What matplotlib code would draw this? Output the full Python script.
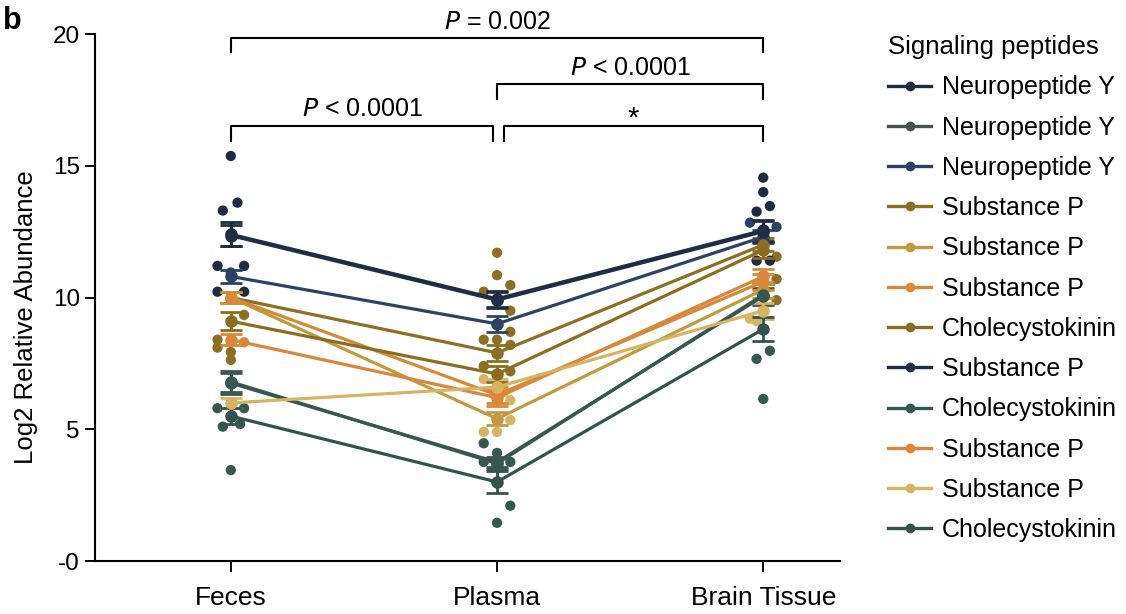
import numpy as np
import matplotlib
matplotlib.use("Agg")
import matplotlib.pyplot as plt
from matplotlib.lines import Line2D

plt.rcParams['font.family'] = ['Liberation Sans', 'DejaVu Sans']

groups = ["Feces", "Plasma", "Brain Tissue"]

names = ["Neuropeptide Y", "Neuropeptide Y", "Neuropeptide Y",
         "Substance P", "Substance P", "Substance P",
         "Cholecystokinin", "Substance P", "Cholecystokinin",
         "Substance P", "Substance P", "Cholecystokinin"]

colors = ["#1d2c40", "#44534d", "#2d4262",
          "#8b6f22", "#c19a3e", "#d68a38",
          "#8a6d1f", "#1f2e45", "#375753",
          "#d9873a", "#d8b462", "#34524d"]

means = [[12.4, 9.95, 12.55],
         [6.75, 3.75, 10.05],
         [10.8, 9.0, 12.3],
         [10.0, 7.9, 12.0],
         [10.0, 5.4, 10.3],
         [10.0, 6.3, 10.6],
         [9.1, 7.1, 11.8],
         [12.35, 9.9, 12.5],
         [6.8, 3.7, 10.1],
         [8.4, 6.2, 10.8],
         [6.0, 6.6, 9.5],
         [5.5, 3.0, 8.8]]

sems = [[0.45, 0.3, 0.4],
        [0.4, 0.2, 0.3],
        [0.25, 0.3, 0.25],
        [0.2, 0.3, 0.25],
        [0.2, 0.25, 0.3],
        [0.2, 0.3, 0.3],
        [0.35, 0.3, 0.3],
        [0.4, 0.3, 0.4],
        [0.4, 0.2, 0.4],
        [0.2, 0.3, 0.3],
        [0.2, 0.3, 0.3],
        [0.3, 0.4, 0.45]]

# individual points: value and colour index per group
feces_vals = [15.37, 13.3, 13.6, 11.2, 11.2, 10.95, 10.22, 10.22, 9.34, 8.4, 8.1,
              7.93, 7.63, 8.3, 5.8, 5.8, 5.1, 5.2, 3.45]
feces_col = [0, 0, 0, 0, 0, 2, 0, 0, 3, 3, 3, 3, 3, 5, 8, 8, 8, 8, 8]
plasma_vals = [11.7, 10.85, 10.47, 10.22, 9.5, 8.7, 8.4, 8.4, 8.2, 7.4, 7.2,
               6.9, 6.6, 6.1, 5.35, 4.9, 4.9, 4.47, 4.1, 3.76, 3.76, 2.1, 1.45]
plasma_col = [3, 3, 3, 3, 3, 3, 3, 3, 3, 3, 3,
              10, 10, 10, 10, 10, 10, 8, 8, 8, 8, 8, 8]
brain_vals = [14.55, 14.0, 13.47, 13.26, 12.84, 12.68, 11.55, 11.4, 11.4, 10.7,
              9.9, 9.2, 9.1, 7.98, 7.67, 6.15]
brain_col = [0, 0, 0, 0, 2, 2, 3, 0, 0, 3, 3, 10, 10, 8, 8, 8]

# horizontal jitter (layout only)
feces_dx = [0, -0.03, 0.025, -0.05, 0.05, 0, -0.05, 0.05, 0.05, -0.05, -0.05,
            0, 0, 0.05, -0.05, 0.05, -0.03, 0.035, 0]
plasma_dx = [0, 0, 0.05, -0.05, 0.05, 0.05, -0.05, 0, 0.05, -0.05, 0.05,
             -0.05, 0, 0.05, 0.05, -0.05, 0, -0.05, 0, -0.05, 0.05, 0.05, 0]
brain_dx = [0, 0, 0.025, -0.025, -0.05, 0.05, 0.05, -0.025, 0.025, 0.05,
            0.05, -0.05, -0.025, 0.025, -0.025, 0]

fig = plt.figure(figsize=(11.26, 6.14), dpi=100)
ax = fig.add_axes([0.0844, 0.0863, 0.662, 0.8583])

x = np.arange(len(groups))

for gi, (vals, cols, dxs) in enumerate([(feces_vals, feces_col, feces_dx),
                                       (plasma_vals, plasma_col, plasma_dx),
                                       (brain_vals, brain_col, brain_dx)]):
    ax.scatter(np.array(dxs) + gi, vals, s=55, c=[colors[c] for c in cols],
               zorder=2, linewidths=0)

handles = []
for i in range(len(names)):
    ax.errorbar(x, means[i], yerr=sems[i], color=colors[i], lw=2.3,
                marker="o", ms=8, capsize=8, capthick=2, elinewidth=2,
                zorder=3)
    handles.append(Line2D([], [], color=colors[i], lw=2.4, marker="o", ms=6))

ax.set_xlim(-0.51, 2.29)
ax.set_ylim(0, 20)
ax.set_yticks([0, 5, 10, 15, 20])
ax.set_yticklabels(["-0", "5", "10", "15", "20"])
ax.set_xticks(x)
ax.set_xticklabels(groups)
ax.tick_params(axis="y", labelsize=17.5, width=1.4, length=7, pad=4)
ax.tick_params(axis="x", labelsize=19, width=1.4, length=8, pad=10)
ax.spines["top"].set_visible(False)
ax.spines["right"].set_visible(False)
ax.spines["left"].set_linewidth(1.5)
ax.spines["bottom"].set_linewidth(1.5)
ax.set_ylabel("Log2 Relative Abundance", fontsize=18.5)
ax.yaxis.set_label_coords(-0.077, 0.463)


def bracket(x0, x1, y, h, label, ty, size=18):
    ax.plot([x0, x0, x1, x1], [y - h, y, y, y - h], color="black", lw=1.5,
            clip_on=False)
    ax.text((x0 + x1) / 2, ty, label, ha="center", va="center",
            fontsize=size, clip_on=False)


bracket(0, 2, 19.85, 0.55, "$\\mathit{P}$ = 0.002", 20.45)
bracket(1, 2, 18.1, 0.55, "$\\mathit{P}$ < 0.0001", 18.7)
bracket(0, 0.985, 16.5, 0.55, "$\\mathit{P}$ < 0.0001", 17.15)
bracket(1.025, 2, 16.5, 0.55, "*", 16.8, size=21)

ax.legend(handles, names, loc="upper left", bbox_to_anchor=(1.051, 1.017),
          frameon=False, fontsize=18, title="Signaling peptides",
          title_fontsize=18.5, handlelength=1.7, handletextpad=0.45,
          labelspacing=0.65, alignment="left", borderaxespad=0)

fig.text(0.003, 0.99, "b", fontsize=22, fontweight="bold", va="top")

fig.savefig("out.png", dpi=100)
